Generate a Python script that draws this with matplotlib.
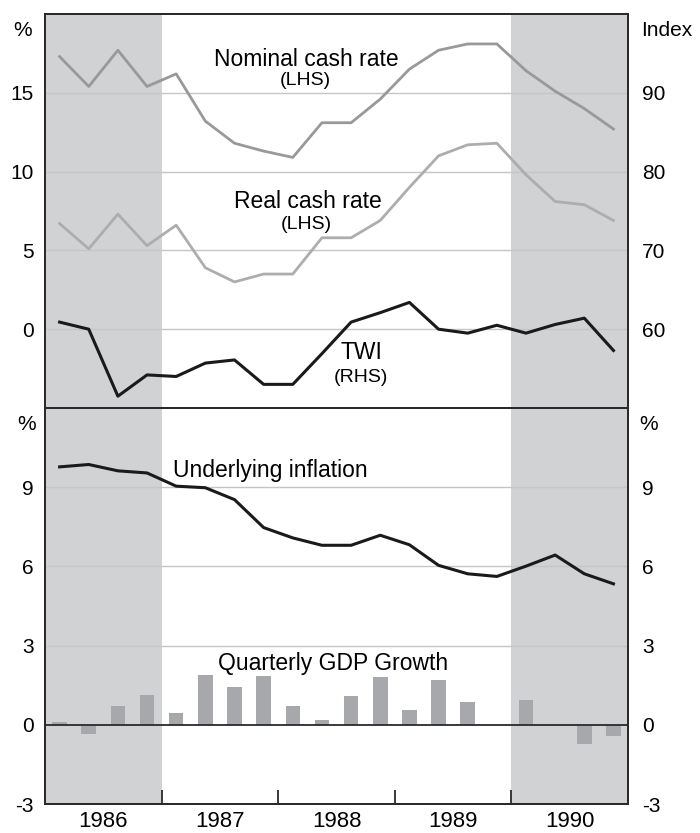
import matplotlib
matplotlib.use("Agg")
import matplotlib.pyplot as plt
import numpy as np

plt.rcParams['font.family'] = ['Liberation Sans', 'DejaVu Sans']
plt.rcParams['axes.unicode_minus'] = False

# quarterly data, 1986 Q1 - 1990 Q4
quarters = np.arange(20) / 4.0 + 1986.125
nominal_cash = [17.3, 15.4, 17.7, 15.4, 16.2, 13.2, 11.8, 11.3, 10.9, 13.1,
                13.1, 14.6, 16.5, 17.7, 18.1, 18.1, 16.4, 15.1, 14.0, 12.7]
real_cash = [6.7, 5.1, 7.3, 5.3, 6.6, 3.9, 3.0, 3.5, 3.5, 5.8,
             5.8, 6.9, 9.0, 11.0, 11.7, 11.8, 9.8, 8.1, 7.9, 6.9]
twi = [60.9, 60.0, 51.5, 54.2, 54.0, 55.7, 56.1, 53.0, 53.0, 56.9,
       60.9, 62.1, 63.4, 60.0, 59.5, 60.5, 59.5, 60.6, 61.4, 57.3]
inflation = [9.77, 9.86, 9.62, 9.54, 9.04, 8.98, 8.53, 7.47, 7.08, 6.8,
             6.8, 7.18, 6.82, 6.04, 5.72, 5.62, 6.01, 6.43, 5.72, 5.34]
gdp_growth = [0.11, -0.33, 0.72, 1.14, 0.46, 1.9, 1.44, 1.86, 0.72, 0.19,
              1.1, 1.82, 0.57, 1.71, 0.87, 0.0, 0.95, 0.0, -0.73, -0.41]
years = [1986, 1987, 1988, 1989, 1990]
shaded_years = [1986, 1990]

shade = '#d1d2d4'
grid_c = '#c6c6c6'
spine_c = '#2a2a2a'
fs_tick = 15
fs_lab = 16.5
fs_small = 14

fig = plt.figure(figsize=(7, 8.33), dpi=100)
ax1 = fig.add_axes([0.0643, 0.5102, 0.8329, 0.473])
ax2 = fig.add_axes([0.0643, 0.0348, 0.8329, 0.4754])

for ax in (ax1, ax2):
    ax.set_xlim(1986, 1991)
    for y in shaded_years:
        ax.axvspan(y, y + 1, color=shade, lw=0, zorder=0)
    for s in ax.spines.values():
        s.set_color(spine_c)
        s.set_linewidth(1.3)

# top panel
ax1.set_ylim(-5, 20)
ax1.set_yticks([0, 5, 10, 15])
for v in [0, 5, 10, 15]:
    ax1.axhline(v, color=grid_c, lw=1, zorder=1)
ax1.plot(quarters, nominal_cash, color='#999999', lw=2, zorder=3)
ax1.plot(quarters, real_cash, color='#adadad', lw=2, zorder=3)
ax1.set_xticks([])
ax1.tick_params(axis='y', length=0, labelsize=fs_tick, pad=8)

ax1r = ax1.twinx()
ax1r.set_ylim(50, 100)
ax1r.set_yticks([60, 70, 80, 90])
ax1r.plot(quarters, twi, color='#1a1a1a', lw=2.2, zorder=3)
ax1r.tick_params(axis='y', length=0, labelsize=fs_tick, pad=10)
for s in ax1r.spines.values():
    s.set_color(spine_c)
    s.set_linewidth(1.3)

ax1.text(1988.245, 17.1, 'Nominal cash rate', fontsize=fs_lab, ha='center', va='center')
ax1.text(1988.235, 15.8, '(LHS)', fontsize=fs_small, ha='center', va='center')
ax1.text(1988.254, 8.1, 'Real cash rate', fontsize=fs_lab, ha='center', va='center')
ax1.text(1988.24, 6.65, '(LHS)', fontsize=fs_small, ha='center', va='center')
ax1.text(1988.714, -1.46, 'TWI', fontsize=fs_lab, ha='center', va='center')
ax1.text(1988.706, -3.04, '(RHS)', fontsize=fs_small, ha='center', va='center')

# bottom panel
ax2.set_ylim(-3, 12)
ax2.set_yticks([-3, 0, 3, 6, 9])
for v in [3, 6, 9]:
    ax2.axhline(v, color=grid_c, lw=1, zorder=1)
ax2.axhline(0, color=spine_c, lw=1.3, zorder=4)
ax2.bar(quarters, gdp_growth, width=0.125, color='#a7a8ab', zorder=3)
ax2.plot(quarters, inflation, color='#1a1a1a', lw=2.2, zorder=5)
ax2.tick_params(axis='y', length=0, labelsize=fs_tick, pad=8)
ax2.set_xticks([1987, 1988, 1989, 1990])
ax2.set_xticklabels([])
ax2.tick_params(axis='x', direction='in', length=10, width=1.3, color=spine_c)
for y in years:
    ax2.text(y + 0.5, -3.25, str(y), fontsize=16, ha='center', va='top')

ax2r = ax2.twinx()
ax2r.set_ylim(-3, 12)
ax2r.set_yticks([-3, 0, 3, 6, 9])
ax2r.tick_params(axis='y', length=0, labelsize=fs_tick, pad=10)
for s in ax2r.spines.values():
    s.set_color(spine_c)
    s.set_linewidth(1.3)

ax2.text(1987.097, 9.65, 'Underlying inflation', fontsize=fs_lab, ha='left', va='center')
ax2.text(1988.468, 2.32, 'Quarterly GDP Growth', fontsize=fs_lab, ha='center', va='center')

# unit labels
fig.text(23 / 700, 1 - 30 / 833, '%', fontsize=fs_tick, ha='center', va='center')
fig.text(641 / 700, 1 - 30 / 833, 'Index', fontsize=fs_tick, ha='left', va='center')
fig.text(27 / 700, 1 - 425 / 833, '%', fontsize=fs_tick, ha='center', va='center')
fig.text(639 / 700, 1 - 425 / 833, '%', fontsize=fs_tick, ha='left', va='center')

fig.savefig('out.png', dpi=100)
